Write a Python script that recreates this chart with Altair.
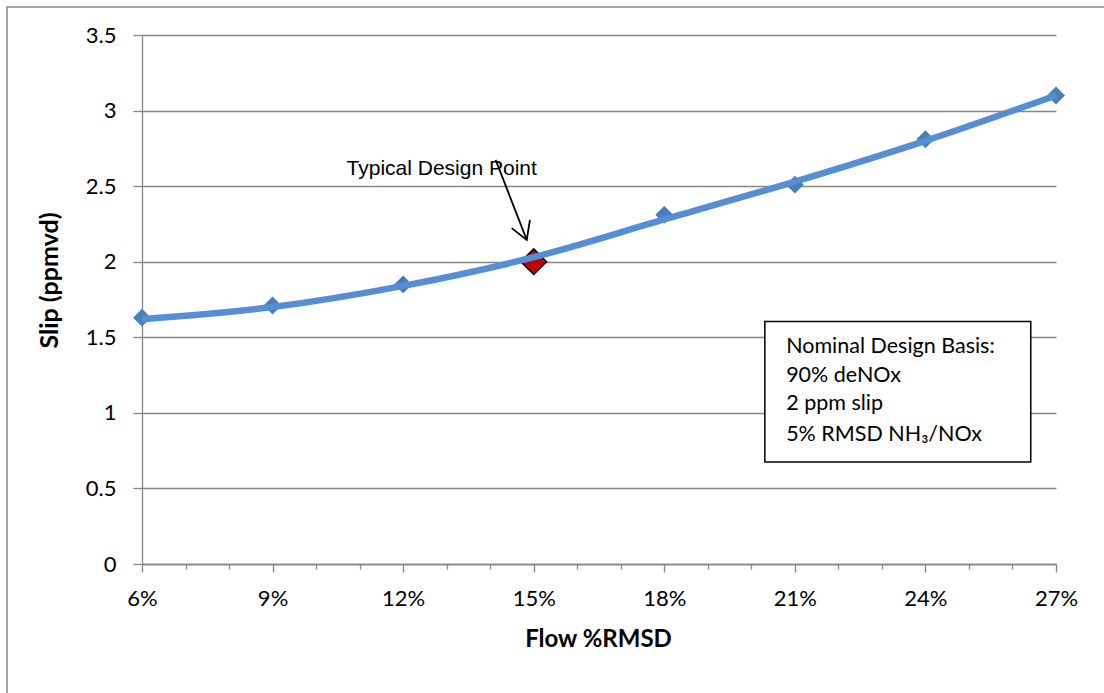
import altair as alt
import pandas as pd

# ---- data ----
flow_pct = [6, 9, 12, 15, 18, 21, 24, 27]
slip_points = [1.63, 1.71, 1.85, None, 2.31, 2.51, 2.81, 3.10]
design_flow = [15]
design_slip = [2.0]
# smooth trend line (read at 3% steps)
line_flow = [6, 9, 12, 15, 18, 21, 24, 27]
line_slip = [1.62, 1.70, 1.84, 2.03, 2.28, 2.53, 2.80, 3.10]

x_ticks = list(range(6, 28))
y_ticks = [0, 0.5, 1, 1.5, 2, 2.5, 3, 3.5]

box_lines = ["Nominal Design Basis:", "90% deNOx", "2 ppm slip", "5% RMSD NH\u2083/NOx"]
box_line_y = [1.396, 1.205, 1.019, 0.812]
box_text_x = 20.80
box_x = [20.31, 26.42]
box_y = [0.675, 1.604]

annot_text = "Typical Design Point"
annot_x = 10.70
annot_y = 2.574
arrow_start = (14.125, 2.674)
arrow_tip = (14.84, 2.144)
arrow_head_x = [14.493, 14.84, 14.913]
arrow_head_y = [2.222, 2.144, 2.277]

GRID = "#868686"
FONT = "Lato"

xscale = alt.Scale(domain=[6, 27], nice=False, zero=False)
yscale = alt.Scale(domain=[0, 3.5], nice=False)

x_axis = alt.Axis(
    values=x_ticks,
    tickSize={"condition": {"test": "datum.value % 3 === 0", "value": 8}, "value": 5},
    labelExpr="datum.value % 3 === 0 ? datum.value + '%' : ''",
    grid=False, domain=True, domainColor=GRID, tickColor=GRID,
    domainWidth=1.3, tickWidth=1.3,
    labelFont=FONT, labelFontSize=22, labelColor="#000", labelPadding=16,
    labelFlush=False, labelOverlap=False,
    title="Flow %RMSD", titleFont=FONT, titleFontSize=24,
    titleFontWeight="bold", titleColor="#000",
    titleAlign="center", titleBaseline="alphabetic", titleX=456, titleY=82,
)
y_axis = alt.Axis(
    values=y_ticks, tickSize=9, format=".2~f",
    grid=True, gridColor=GRID, gridWidth=1.3,
    domainColor=GRID, tickColor=GRID, domainWidth=1.3, tickWidth=1.3,
    labelFont=FONT, labelFontSize=22, labelColor="#000", labelPadding=17,
    labelFlush=False, labelOverlap=False,
    title="Slip (ppmvd)", titleFont=FONT, titleFontSize=25,
    titleFontWeight="bold", titleColor="#000",
    titleAngle=270, titleAlign="center", titleBaseline="alphabetic",
    titleX=-85, titleY=245,
)

X = alt.X("x:Q", scale=xscale, axis=x_axis)
Y = alt.Y("y:Q", scale=yscale, axis=y_axis)

pts = pd.DataFrame({"x": flow_pct, "y": slip_points}).dropna()
line_df = pd.DataFrame({"x": line_flow, "y": line_slip})
design_df = pd.DataFrame({"x": design_flow, "y": design_slip})

points = alt.Chart(pts).mark_point(
    shape="diamond", filled=True, size=320, color="#4A7EBB", opacity=1
).encode(x=X, y=Y)

design = alt.Chart(design_df).mark_point(
    shape="diamond", filled=True, size=660, color="#C00000", stroke="#000",
    strokeWidth=1.5, opacity=1
).encode(x=X, y=Y)

line_top = alt.Chart(line_df).mark_line(
    color="#558ED5", strokeWidth=6.5, interpolate="monotone"
).encode(x=X, y=Y)

box_df = pd.DataFrame({"x": [box_x[0]], "x2": [box_x[1]], "y": [box_y[0]], "y2": [box_y[1]]})
box = alt.Chart(box_df).mark_rect(fill="white", stroke="#000", strokeWidth=1.5).encode(
    x=X, x2="x2:Q", y=Y, y2="y2:Q",
)

box_txt_df = pd.DataFrame({"x": [box_text_x] * len(box_lines), "y": box_line_y, "t": box_lines})
box_txt = alt.Chart(box_txt_df).mark_text(
    align="left", baseline="alphabetic", font=FONT, fontSize=21.5, color="#000"
).encode(x=X, y=Y, text="t:N")

annot = alt.Chart(pd.DataFrame({"x": [annot_x], "y": [annot_y], "t": [annot_text]})).mark_text(
    align="left", baseline="alphabetic", font="Liberation Sans", fontSize=21, color="#000"
).encode(x=X, y=Y, text="t:N")

arrow_df = pd.DataFrame({"x": [arrow_start[0]], "x2": [arrow_tip[0]],
                         "y": [arrow_start[1]], "y2": [arrow_tip[1]]})
arrow = alt.Chart(arrow_df).mark_rule(color="#000", strokeWidth=1.8).encode(
    x=X, x2="x2:Q", y=Y, y2="y2:Q",
)

head_df = pd.DataFrame({"x": arrow_head_x, "y": arrow_head_y, "o": [0, 1, 2]})
head = alt.Chart(head_df).mark_line(color="#000", strokeWidth=1.8).encode(
    x=X, y=Y, order="o:Q",
)

frame = alt.Chart(pd.DataFrame({"a": [0]})).mark_rect(
    fill=None, stroke=GRID, strokeWidth=1.5
).encode(
    x=alt.value(-135), x2=alt.value(1000),
    y=alt.value(-28), y2=alt.value(700),
)

chart = alt.layer(
    points, design, line_top, box, box_txt, annot, arrow, head, frame
).properties(
    width=914, height=529,
    padding={"left": 142, "top": 35, "right": 48, "bottom": 129},
    autosize=alt.AutoSizeParams(type="none"),
    background="white",
).configure_view(stroke=None)

chart.save("out.html", embed_options={"renderer": "svg", "actions": False})
